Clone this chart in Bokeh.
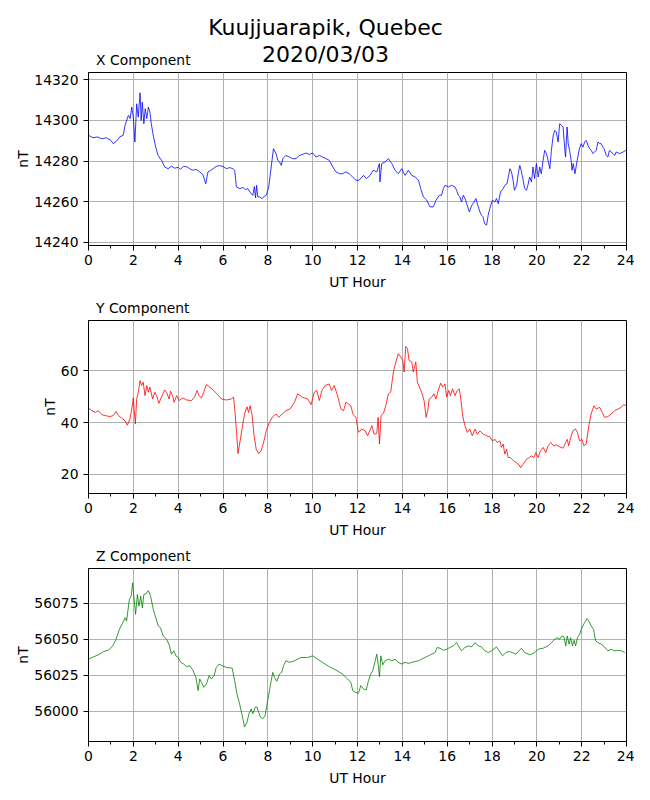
from bokeh.plotting import figure
from bokeh.layouts import column
from bokeh.models import Range1d, FixedTicker, BasicTickFormatter
from bokeh.core.properties import value
from bokeh.embed import file_html
from bokeh.resources import INLINE

# ---------------- data ----------------
SUPTITLE_1 = "Kuujjuarapik, Quebec"
SUPTITLE_2 = "2020/03/03"
PANEL_TITLES = ["X Component", "Y Component", "Z Component"]

x_hours = [0.0, 0.2, 0.4, 0.6, 0.8, 1.0, 1.1, 1.25, 1.4, 1.55,
           1.63, 1.78, 1.86, 1.93, 2.0, 2.07, 2.15, 2.22, 2.3, 2.35,
           2.4, 2.47, 2.53, 2.6, 2.67, 2.74, 2.8, 2.9, 3.0, 3.1,
           3.26, 3.4, 3.55, 3.7, 3.85, 4.0, 4.1, 4.25, 4.4, 4.55,
           4.67, 4.8, 4.96, 5.1, 5.23, 5.33, 5.45, 5.56, 5.7, 5.85,
           6.0, 6.15, 6.3, 6.44, 6.52, 6.6, 6.74, 6.9, 7.0, 7.1,
           7.2, 7.33, 7.4, 7.45, 7.5, 7.55, 7.63, 7.75, 7.85, 7.93,
           8.04, 8.15, 8.25, 8.37, 8.44, 8.52, 8.6, 8.67, 8.8, 8.96,
           9.1, 9.26, 9.4, 9.55, 9.7, 9.85, 10.0, 10.15, 10.3, 10.44,
           10.6, 10.74, 10.9, 11.04, 11.2, 11.33, 11.48, 11.63, 11.78, 11.93,
           12.07, 12.27, 12.4, 12.56, 12.7, 12.86, 12.98, 13.0, 13.08, 13.23,
           13.38, 13.53, 13.68, 13.82, 13.97, 14.12, 14.27, 14.42, 14.57, 14.72,
           14.82, 14.94, 15.09, 15.23, 15.38, 15.5, 15.65, 15.75, 15.83, 15.9,
           16.05, 16.2, 16.35, 16.42, 16.5, 16.57, 16.64, 16.72, 16.8, 16.87,
           16.99, 17.1, 17.2, 17.28, 17.39, 17.46, 17.53, 17.6, 17.67, 17.76,
           17.83, 17.9, 18.02, 18.13, 18.2, 18.28, 18.38, 18.5, 18.57, 18.67,
           18.8, 18.87, 18.94, 19.0, 19.1, 19.17, 19.24, 19.3, 19.39, 19.46,
           19.54, 19.6, 19.68, 19.76, 19.83, 19.9, 19.98, 20.06, 20.13, 20.2,
           20.28, 20.35, 20.43, 20.5, 20.58, 20.65, 20.73, 20.8, 20.87, 20.95,
           21.02, 21.1, 21.17, 21.24, 21.28, 21.35, 21.4, 21.46, 21.53, 21.57,
           21.62, 21.7, 21.8, 21.9, 21.98, 22.06, 22.13, 22.2, 22.28, 22.36,
           22.43, 22.5, 22.58, 22.65, 22.73, 22.8, 22.87, 22.95, 23.0, 23.1,
           23.17, 23.24, 23.4, 23.47, 23.54, 23.7, 23.85, 24.0]
x_nT = [14292.7, 14291.5, 14291.9, 14291.0, 14291.5, 14290.2, 14288.6, 14289.8, 14292.0, 14292.7,
        14297.6, 14302.5, 14301.0, 14306.6, 14301.7, 14289.4, 14308.2, 14301.7, 14313.6, 14300.0,
        14309.0, 14298.4, 14305.8, 14300.9, 14306.6, 14304.1, 14298.4, 14292.0, 14286.9, 14282.8,
        14280.4, 14277.1, 14276.3, 14277.5, 14276.5, 14277.0, 14276.0, 14277.5, 14277.1, 14276.0,
        14275.5, 14276.0, 14274.7, 14273.5, 14268.9, 14274.7, 14275.5, 14276.3, 14277.4, 14277.8,
        14277.4, 14276.3, 14276.8, 14276.3, 14275.5, 14267.3, 14266.5, 14267.0, 14266.0, 14266.5,
        14264.8, 14263.2, 14267.5, 14262.0, 14268.1, 14262.4, 14262.4, 14261.6, 14262.8, 14263.2,
        14267.3, 14277.1, 14286.1, 14283.7, 14280.4, 14279.6, 14277.9, 14281.2, 14282.8, 14282.0,
        14281.2, 14281.2, 14282.8, 14283.3, 14284.0, 14283.3, 14284.0, 14282.0, 14282.8, 14282.0,
        14281.2, 14280.4, 14277.1, 14274.7, 14273.8, 14273.8, 14274.7, 14273.8, 14272.2, 14270.6,
        14270.6, 14273.0, 14271.4, 14273.0, 14275.5, 14274.7, 14278.8, 14269.8, 14278.8, 14279.6,
        14281.2, 14278.8, 14275.5, 14273.8, 14276.3, 14273.0, 14275.5, 14273.0, 14272.2, 14270.6,
        14266.5, 14262.4, 14260.8, 14257.5, 14257.5, 14260.8, 14263.2, 14263.2, 14266.5, 14268.1,
        14267.3, 14268.1, 14267.3, 14265.7, 14263.2, 14262.4, 14259.9, 14263.2, 14261.6, 14259.1,
        14255.0, 14258.3, 14259.9, 14261.6, 14257.5, 14255.0, 14253.4, 14252.6, 14249.3, 14248.5,
        14253.4, 14256.7, 14260.8, 14259.9, 14261.6, 14259.1, 14264.8, 14266.5, 14268.1, 14268.9,
        14276.3, 14274.7, 14270.6, 14265.7, 14268.1, 14273.8, 14277.9, 14275.5, 14270.6, 14266.5,
        14265.7, 14268.1, 14272.2, 14269.8, 14277.1, 14271.4, 14278.8, 14272.2, 14277.1, 14273.8,
        14280.4, 14285.3, 14283.7, 14280.4, 14276.3, 14285.3, 14292.7, 14295.1, 14294.3, 14289.4,
        14298.4, 14297.6, 14296.8, 14286.9, 14282.0, 14296.8, 14288.6, 14285.3, 14280.4, 14275.5,
        14278.8, 14273.8, 14280.4, 14286.1, 14288.6, 14286.9, 14289.4, 14290.2, 14287.8, 14286.1,
        14285.3, 14283.7, 14284.5, 14285.3, 14289.4, 14288.6, 14288.6, 14286.9, 14286.1, 14282.8,
        14282.0, 14285.3, 14283.7, 14282.8, 14284.5, 14283.7, 14284.5, 14285.6]

y_hours = [0.0, 0.15, 0.3, 0.44, 0.6, 0.74, 0.96, 1.1, 1.23, 1.33,
           1.48, 1.63, 1.73, 1.85, 1.93, 2.0, 2.04, 2.09, 2.15, 2.22,
           2.3, 2.37, 2.44, 2.52, 2.6, 2.67, 2.74, 2.86, 2.96, 3.04,
           3.14, 3.26, 3.4, 3.48, 3.6, 3.66, 3.75, 3.82, 3.93, 4.04,
           4.22, 4.37, 4.6, 4.74, 4.84, 4.93, 5.04, 5.14, 5.26, 5.4,
           5.56, 5.73, 5.93, 6.15, 6.37, 6.47, 6.53, 6.6, 6.67, 6.74,
           6.86, 6.96, 7.07, 7.14, 7.21, 7.3, 7.38, 7.48, 7.59, 7.7,
           7.81, 7.93, 8.07, 8.22, 8.37, 8.49, 8.64, 8.81, 8.99, 9.19,
           9.33, 9.53, 9.78, 9.93, 10.07, 10.18, 10.3, 10.41, 10.56, 10.74,
           10.84, 10.96, 11.11, 11.26, 11.38, 11.48, 11.6, 11.7, 11.81, 11.93,
           12.04, 12.19, 12.34, 12.45, 12.56, 12.64, 12.74, 12.86, 12.92, 12.98,
           13.05, 13.16, 13.26, 13.38, 13.48, 13.6, 13.71, 13.82, 13.93, 14.02,
           14.08, 14.15, 14.23, 14.3, 14.42, 14.49, 14.6, 14.67, 14.76, 14.86,
           14.97, 15.06, 15.13, 15.2, 15.31, 15.41, 15.5, 15.6, 15.71, 15.8,
           15.9, 15.98, 16.07, 16.15, 16.24, 16.35, 16.45, 16.54, 16.61, 16.69,
           16.79, 16.9, 17.01, 17.12, 17.24, 17.34, 17.46, 17.61, 17.76, 17.9,
           18.02, 18.13, 18.23, 18.35, 18.42, 18.5, 18.57, 18.65, 18.72, 18.82,
           18.94, 19.09, 19.21, 19.28, 19.39, 19.54, 19.66, 19.76, 19.87, 19.96,
           20.06, 20.16, 20.28, 20.4, 20.5, 20.62, 20.75, 20.87, 21.02, 21.17,
           21.29, 21.36, 21.42, 21.51, 21.61, 21.72, 21.81, 21.91, 22.01, 22.1,
           22.2, 22.32, 22.42, 22.55, 22.65, 22.8, 22.92, 23.02, 23.17, 23.32,
           23.47, 23.62, 23.77, 23.87, 24.0]
y_nT = [45.6, 44.6, 43.9, 44.6, 43.0, 42.7, 42.3, 42.7, 44.3, 42.7,
        41.7, 40.7, 39.0, 41.4, 45.2, 49.5, 44.6, 39.4, 49.1, 51.7,
        56.2, 54.3, 55.6, 50.4, 54.3, 51.7, 53.7, 49.1, 51.7, 50.4,
        47.4, 50.0, 52.6, 51.7, 49.1, 52.1, 50.4, 47.8, 50.4, 48.5,
        49.5, 48.7, 48.5, 50.0, 52.4, 50.4, 49.5, 51.7, 54.7, 53.7,
        52.6, 51.1, 49.1, 48.7, 49.1, 49.8, 44.6, 36.8, 28.0, 31.7,
        38.1, 43.3, 46.1, 43.9, 46.5, 42.7, 35.5, 29.7, 28.0, 29.1,
        32.3, 36.8, 40.1, 42.3, 43.3, 42.0, 43.3, 44.6, 45.2, 47.8,
        51.1, 49.8, 49.1, 46.9, 51.7, 52.4, 48.5, 52.4, 54.3, 54.9,
        52.4, 54.3, 50.4, 45.2, 44.6, 47.8, 47.2, 46.5, 43.0, 42.0,
        36.2, 37.5, 36.8, 34.9, 37.1, 38.8, 35.5, 35.8, 42.0, 31.7,
        42.7, 43.6, 46.5, 51.1, 51.7, 59.5, 63.4, 66.6, 65.3, 64.0,
        59.5, 69.4, 68.5, 64.0, 63.4, 59.5, 63.4, 55.6, 53.7, 51.7,
        48.5, 42.0, 44.6, 49.1, 49.8, 51.1, 49.1, 52.4, 55.2, 53.7,
        54.9, 49.8, 52.4, 50.4, 53.0, 50.4, 52.4, 53.0, 49.1, 42.7,
        38.8, 36.2, 37.5, 34.9, 37.5, 35.5, 36.8, 35.5, 34.9, 34.5,
        32.9, 33.5, 32.3, 32.9, 30.4, 31.7, 27.8, 29.7, 26.5, 26.5,
        25.4, 24.5, 23.6, 22.6, 23.9, 25.8, 26.5, 27.1, 26.5, 28.4,
        26.5, 29.1, 30.4, 28.4, 31.0, 32.3, 31.0, 31.4, 30.6, 30.1,
        32.3, 33.5, 31.0, 34.2, 36.8, 37.5, 36.2, 32.9, 33.5, 31.0,
        31.7, 38.8, 43.3, 46.5, 45.2, 45.9, 43.9, 42.0, 42.3, 43.3,
        44.6, 45.2, 45.9, 46.9, 46.5]

z_hours = [0.0, 0.22, 0.44, 0.67, 0.89, 1.08, 1.23, 1.38, 1.53, 1.63,
           1.7, 1.82, 1.9, 1.97, 2.03, 2.1, 2.18, 2.25, 2.33, 2.4,
           2.47, 2.56, 2.67, 2.77, 2.89, 3.0, 3.11, 3.21, 3.33, 3.48,
           3.6, 3.7, 3.81, 3.9, 4.0, 4.12, 4.25, 4.37, 4.52, 4.67,
           4.79, 4.89, 4.96, 5.04, 5.14, 5.26, 5.38, 5.48, 5.6, 5.7,
           5.82, 5.96, 6.15, 6.41, 6.52, 6.62, 6.74, 6.84, 6.96, 7.07,
           7.16, 7.26, 7.33, 7.44, 7.52, 7.59, 7.67, 7.78, 7.88, 7.97,
           8.07, 8.15, 8.22, 8.3, 8.4, 8.52, 8.62, 8.7, 8.81, 8.96,
           9.19, 9.48, 9.78, 10.0, 10.22, 10.44, 10.74, 11.04, 11.33, 11.56,
           11.7, 11.79, 11.9, 12.04, 12.15, 12.27, 12.39, 12.49, 12.59, 12.68,
           12.79, 12.86, 12.93, 12.98, 13.04, 13.13, 13.23, 13.38, 13.53, 13.68,
           13.82, 13.97, 14.12, 14.27, 14.42, 14.57, 14.72, 14.86, 15.01, 15.16,
           15.31, 15.46, 15.56, 15.68, 15.83, 15.98, 16.12, 16.27, 16.42, 16.5,
           16.64, 16.79, 16.94, 17.09, 17.24, 17.39, 17.53, 17.68, 17.83, 17.98,
           18.13, 18.2, 18.32, 18.47, 18.62, 18.77, 18.91, 19.06, 19.21, 19.31,
           19.46, 19.69, 19.91, 20.06, 20.28, 20.5, 20.65, 20.8, 20.9, 21.02,
           21.12, 21.21, 21.29, 21.36, 21.44, 21.51, 21.59, 21.66, 21.73, 21.81,
           21.91, 22.01, 22.13, 22.24, 22.32, 22.43, 22.53, 22.62, 22.72, 22.87,
           23.02, 23.17, 23.32, 23.47, 23.62, 23.77, 23.92]
z_nT = [56036.2, 56037.8, 56039.2, 56041.5, 56042.4, 56045.4, 56050.0, 56056.9, 56061.5, 56064.9,
        56062.6, 56077.5, 56079.8, 56089.0, 56078.7, 56067.2, 56081.0, 56072.9, 56079.8, 56071.8,
        56081.0, 56081.4, 56083.7, 56079.8, 56070.6, 56064.9, 56059.2, 56058.0, 56052.3, 56050.0,
        56046.1, 56039.7, 56042.0, 56038.5, 56037.4, 56034.0, 56032.8, 56031.0, 56031.7, 56028.2,
        56023.6, 56014.4, 56022.5, 56020.2, 56016.7, 56019.0, 56024.8, 56022.5, 56024.8, 56030.5,
        56032.8, 56031.7, 56030.5, 56030.0, 56021.3, 56012.2, 56005.3, 55998.4, 55989.2, 55992.7,
        55998.4, 56001.8, 55998.4, 56003.0, 56003.0, 55999.5, 55996.1, 55995.0, 55997.2, 56005.3,
        56014.4, 56021.3, 56027.1, 56023.6, 56020.9, 56025.9, 56027.1, 56031.7, 56035.1, 56034.0,
        56035.1, 56037.4, 56037.4, 56038.5, 56036.2, 56034.0, 56031.0, 56028.7, 56025.9, 56022.5,
        56020.2, 56014.4, 56013.3, 56012.6, 56017.9, 56015.6, 56014.9, 56021.3, 56025.9, 56028.2,
        56035.1, 56039.7, 56031.7, 56024.1, 56038.5, 56032.3, 56035.1, 56036.2, 56035.1, 56036.2,
        56034.0, 56032.8, 56034.0, 56033.3, 56034.0, 56034.6, 56035.1, 56036.2, 56037.4, 56038.5,
        56039.7, 56040.8, 56044.3, 56043.8, 56042.4, 56043.1, 56044.3, 56045.4, 56047.7, 56045.4,
        56042.0, 56044.3, 56045.4, 56044.7, 56047.7, 56045.4, 56044.7, 56042.0, 56040.8, 56042.0,
        56043.8, 56044.7, 56042.0, 56038.5, 56040.8, 56041.5, 56040.8, 56039.7, 56042.0, 56043.8,
        56040.8, 56039.2, 56040.8, 56043.1, 56043.8, 56045.4, 56047.7, 56050.0, 56051.1, 56050.0,
        56052.3, 56051.6, 56045.4, 56052.3, 56046.6, 56051.1, 56045.4, 56049.3, 56045.4, 56051.1,
        56053.4, 56058.0, 56061.5, 56064.2, 56062.6, 56059.2, 56056.9, 56048.9, 56047.7, 56046.6,
        56044.7, 56042.0, 56043.1, 56042.0, 56042.4, 56042.0, 56040.8]

x_ticks = [0, 2, 4, 6, 8, 10, 12, 14, 16, 18, 20, 22, 24]
x_minor_ticks = [1, 3, 5, 7, 9, 11, 13, 15, 17, 19, 21, 23]
xcomp_ticks = [14240, 14260, 14280, 14300, 14320]
ycomp_ticks = [20, 40, 60]
zcomp_ticks = [56000, 56025, 56050, 56075]

# ---------------- styling / layout ----------------
FONT = "DejaVu Sans"
FS = "13.9px"
LEFT = 88
RIGHT = 8
FRAME_W = 538
FRAME_H = 173
TOTAL_W = LEFT + FRAME_W + RIGHT


def strip(height, texts):
    """A blank band; the column aligns its frame with the panels below,
    so its x range is given in page pixels across that frame."""
    s = figure(width=TOTAL_W, height=height,
               x_range=Range1d(LEFT, LEFT + FRAME_W),
               y_range=Range1d(0, height), output_backend="svg",
               toolbar_location=None, title=None,
               x_axis_location=None, y_axis_location=None,
               min_border_left=LEFT, min_border_right=RIGHT,
               min_border_top=0, min_border_bottom=0,
               background_fill_color="white", border_fill_color="white")
    s.outline_line_color = None
    s.xgrid.visible = False
    s.ygrid.visible = False
    for txt, xx, yy, size, align in texts:
        s.text(x=[xx], y=[yy], text=[txt], text_font=value(FONT),
               text_font_size=value(size), text_color="black",
               text_align=align, text_baseline="middle")
    return s


def panel(hours, values, color, yticks, bottom):
    p = figure(frame_width=FRAME_W, frame_height=FRAME_H,
               x_range=Range1d(0, 24),
               y_range=Range1d(min(values) - 10, max(values) + 10),
               output_backend="svg", toolbar_location=None, title=None,
               min_border_left=LEFT, min_border_right=RIGHT,
               min_border_top=2, min_border_bottom=bottom,
               background_fill_color="white", border_fill_color="white")
    p.line(hours, values, line_color=color, line_width=0.8)

    p.outline_line_color = "black"
    p.outline_line_width = 1
    p.outline_line_alpha = 1

    p.xaxis.ticker = FixedTicker(ticks=x_ticks, minor_ticks=x_minor_ticks)
    p.yaxis.ticker = FixedTicker(ticks=yticks)
    p.yaxis.formatter = BasicTickFormatter(use_scientific=False)
    p.xaxis.axis_label = "UT Hour"
    p.yaxis.axis_label = "nT"

    for ax in (p.xaxis[0], p.yaxis[0]):
        ax.axis_line_color = "black"
        ax.major_tick_line_color = "black"
        ax.minor_tick_line_color = "black"
        ax.major_tick_in = 0
        ax.major_tick_out = 5
        ax.minor_tick_in = 0
        ax.minor_tick_out = 3
        ax.major_label_text_font = FONT
        ax.major_label_text_font_size = FS
        ax.major_label_text_color = "black"
        ax.axis_label_text_font = FONT
        ax.axis_label_text_font_size = FS
        ax.axis_label_text_font_style = "normal"
        ax.axis_label_text_color = "black"
    p.xaxis.major_label_standoff = 4
    p.xaxis.axis_label_standoff = 6
    p.yaxis.major_label_standoff = 5
    p.yaxis.axis_label_standoff = 0
    p.yaxis.minor_tick_line_color = None

    for g in (p.xgrid[0], p.ygrid[0]):
        g.grid_line_color = "#b0b0b0"
        g.grid_line_width = 1
    return p


head = strip(70, [(SUPTITLE_1, 325, 42.7, "22px", "center"),
                  (SUPTITLE_2, 325, 15.7, "22px", "center"),
                  (PANEL_TITLES[0], 95.5, 10.1, FS, "left")])
p1 = panel(x_hours, x_nT, "#0000ff", xcomp_ticks, 52)
s2 = strip(21, [(PANEL_TITLES[1], 95.5, 10.9, FS, "left")])
p2 = panel(y_hours, y_nT, "#ff0000", ycomp_ticks, 52)
s3 = strip(21, [(PANEL_TITLES[2], 95.5, 10.9, FS, "left")])
p3 = panel(z_hours, z_nT, "#008000", zcomp_ticks, 50)

layout = column(head, p1, s2, p2, s3, p3, spacing=0)
open("out.html", "w").write(file_html(layout, INLINE))
